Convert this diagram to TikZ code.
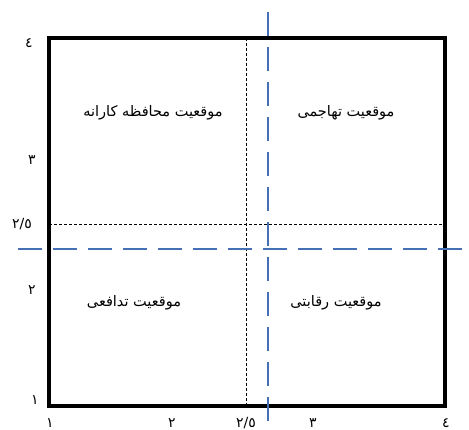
\documentclass[tikz,border=0pt]{standalone}
\usepackage{fontspec}
\TeXXeTstate=1
\newfontfamily\arabicfont[Script=Arabic]{DejaVu Sans}
\begin{document}
\begin{tikzpicture}[x=1pt,y=-1pt,
  frame/.style={draw=black,line width=3.4pt},
  thindash/.style={draw=black,line width=0.9pt,dash pattern=on 2.6pt off 2.4pt},
  bluedash/.style={draw={rgb,255:red,70;green,112;blue,182},line width=2pt,dash pattern=on 24pt off 11pt},
  quad/.style={font=\arabicfont\fontsize{14.5}{16}\selectfont,inner sep=1pt},
  tick/.style={font=\arabicfont\fontsize{14}{16}\selectfont,inner sep=1pt}]
\useasboundingbox (0,0) rectangle (469,430);
\coordinate (bl) at (49,406);
\coordinate (tr) at (445,38);
\coordinate (vt) at (246,38);
\coordinate (vb) at (246,406);
\coordinate (hl) at (49,224);
\coordinate (hr) at (445,224);
\coordinate (bvt) at (268,12);
\coordinate (bvb) at (268,430);
\coordinate (bhl) at (18,249);
\coordinate (bhr) at (469,249);
\draw[thindash] (vt) -- (vb);
\draw[thindash] (hl) -- (hr);
\draw[frame] (bl) rectangle (tr);
\draw[bluedash] (bvt) -- (bvb);
\draw[bluedash] (bhl) -- (bhr);
\node[quad] (q1) at (153,113) {\beginR موقعیت محافظه کارانه\endR};
\node[quad] (q2) at (346,113) {\beginR موقعیت تهاجمی\endR};
\node[quad] (q3) at (134,303) {\beginR موقعیت تدافعی\endR};
\node[quad] (q4) at (336,303) {\beginR موقعیت رقابتی\endR};
\node[tick] (y4) at (29,43) {٤};
\node[tick] (y3) at (32,160) {٣};
\node[tick] (y25) at (22,224) {٢/٥};
\node[tick] (y2) at (32,290) {٢};
\node[tick] (y1) at (35,400) {١};
\node[tick] (x1) at (50,423) {١};
\node[tick] (x2) at (172,423) {٢};
\node[tick] (x25) at (246,423) {٢/٥};
\node[tick] (x3) at (313,423) {٣};
\node[tick] (x4) at (446,423) {٤};
\end{tikzpicture}
\end{document}
